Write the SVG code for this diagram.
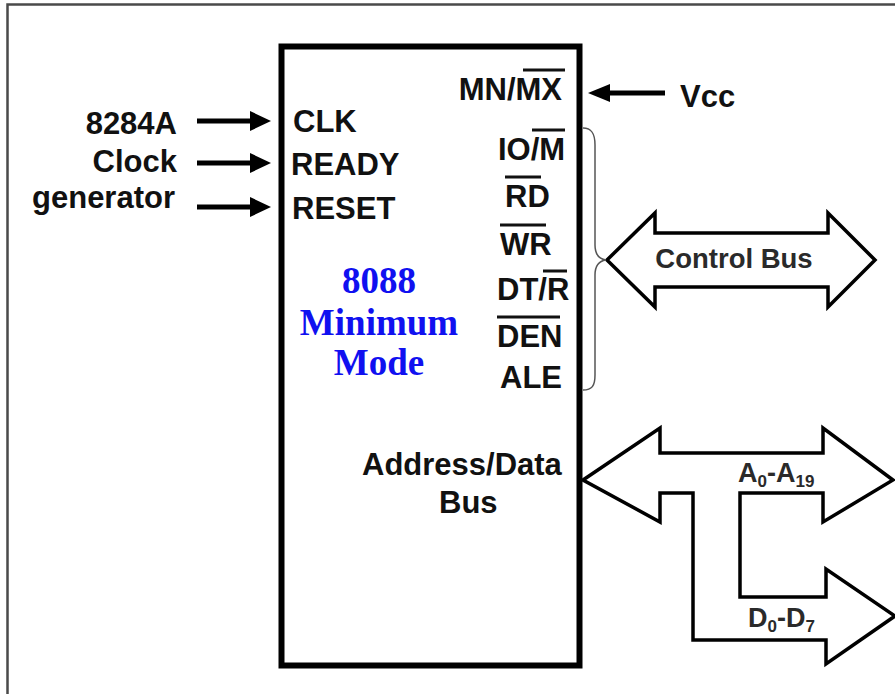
<svg xmlns="http://www.w3.org/2000/svg" width="895" height="694" viewBox="0 0 895 694">
<style>
.lbl{font-family:"Liberation Sans",Arial,sans-serif;font-weight:bold;font-size:31px;fill:#111}
.reg{font-family:"Liberation Sans",Arial,sans-serif;font-weight:bold;font-size:27.5px;fill:#2a2a2a}
.sub{font-family:"Liberation Sans",Arial,sans-serif;font-weight:bold;font-size:27px;fill:#2a2a2a}
.blue{font-family:"Liberation Serif","Times New Roman",serif;font-weight:bold;font-size:37px;fill:#1010f0}
.ov{stroke:#111;stroke-width:3}
.wire{stroke:#000;stroke-width:5;fill:none}
.bus{fill:#fff;stroke:#000;stroke-width:3.5;stroke-linejoin:miter}
</style>
<rect width="895" height="694" fill="#fff"/>
<g id="frame">
<path d="M7.5,694 L7.5,4.5 L895,4.5" fill="none" stroke="#4a4a4a" stroke-width="2.5"/>
</g>
<g id="cpu">
<rect x="281.5" y="46.5" width="298" height="619" fill="none" stroke="#000" stroke-width="6"/>
<text class="blue" x="379" y="293" text-anchor="middle">8088</text>
<text class="blue" x="379" y="335" text-anchor="middle">Minimum</text>
<text class="blue" x="379" y="375" text-anchor="middle">Mode</text>
<text class="lbl" x="293" y="132">CLK</text>
<text class="lbl" x="291" y="175">READY</text>
<text class="lbl" x="292" y="219">RESET</text>
<text class="lbl" x="562" y="100" text-anchor="end">MN/MX</text>
<line class="ov" x1="523" y1="70" x2="565" y2="70"/>
<text class="lbl" x="498" y="160">IO/M</text>
<line class="ov" x1="532" y1="130" x2="565" y2="130"/>
<text class="lbl" x="505" y="207">RD</text>
<line class="ov" x1="505" y1="177" x2="541" y2="177"/>
<text class="lbl" x="500" y="255">WR</text>
<line class="ov" x1="500" y1="225" x2="546" y2="225"/>
<text class="lbl" x="497" y="300">DT/R</text>
<line class="ov" x1="543" y1="271" x2="567" y2="271"/>
<text class="lbl" x="497" y="347">DEN</text>
<line class="ov" x1="497" y1="317" x2="560" y2="317"/>
<text class="lbl" x="500" y="388">ALE</text>
<text class="lbl" x="362" y="475">Address/Data</text>
<text class="lbl" x="439" y="513">Bus</text>
</g>
<g id="clockgen">
<text class="lbl" x="177" y="134" text-anchor="end">8284A</text>
<text class="lbl" x="177" y="172" text-anchor="end">Clock</text>
<text class="lbl" x="175" y="208" text-anchor="end">generator</text>
</g>
<g id="vcc">
<text class="lbl" x="680" y="107">Vcc</text>
</g>
<g id="controlbus">
<polygon class="bus" points="607,260 655,213 655,233 828,233 828,213 875,260 828,307 828,287 655,287 655,307"/>
<text class="reg" x="734" y="268" text-anchor="middle">Control Bus</text>
</g>
<g id="addrdatabus">
<polygon class="bus" points="583,480 660,428 660,453 823,453 823,428 893,480 823,522 823,493 740,493 740,597 826,597 826,569 895,616 826,664 826,640 693,640 693,493 660,493 660,522"/>
<text class="sub" x="738" y="482">A<tspan font-size="17" dy="5">0</tspan><tspan dy="-5">-A</tspan><tspan font-size="17" dy="5">19</tspan></text>
<text class="sub" x="748" y="627">D<tspan font-size="17" dy="5">0</tspan><tspan dy="-5">-D</tspan><tspan font-size="17" dy="5">7</tspan></text>
</g>
<g id="connectors">
<line class="wire" x1="197" y1="121" x2="253" y2="121"/>
<polygon points="271,121 250,111 250,131" fill="#000"/>
<line class="wire" x1="197" y1="163" x2="253" y2="163"/>
<polygon points="271,163 250,153 250,173" fill="#000"/>
<line class="wire" x1="197" y1="207" x2="253" y2="207"/>
<polygon points="271,207 250,197 250,217" fill="#000"/>
<line class="wire" x1="665" y1="93" x2="607" y2="93"/>
<polygon points="588,93 610,84 610,102" fill="#000"/>
<path d="M583,128 C592,128 595,134 595,145 L595,245 C595,254 599,259 606,260 C599,261 595,266 595,275 L595,375 C595,386 592,390 583,390" fill="none" stroke="#555" stroke-width="1.5"/>
</g>
</svg>
